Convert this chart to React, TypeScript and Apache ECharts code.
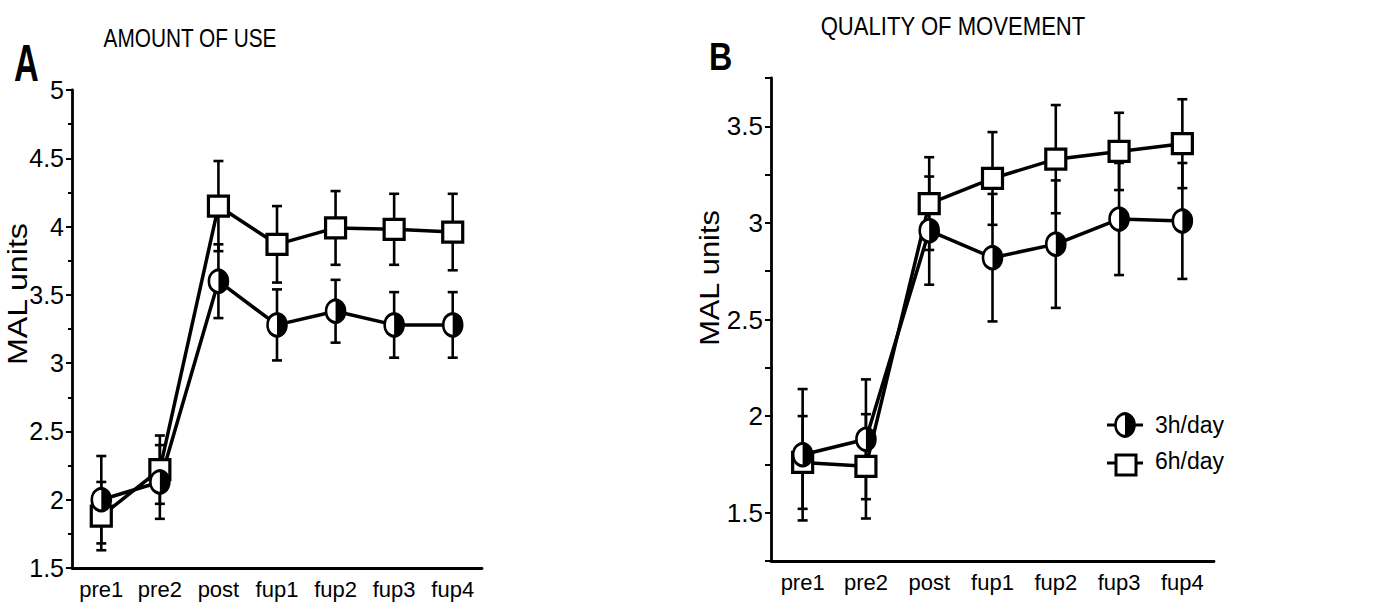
import React, { useEffect, useRef } from 'react';
import * as echarts from 'echarts';

const categories = ['pre1', 'pre2', 'post', 'fup1', 'fup2', 'fup3', 'fup4'];

// Panel A: AMOUNT OF USE
const useH3 = [2.0, 2.13, 3.6, 3.28, 3.38, 3.28, 3.28];
const useH3Err = [0.32, 0.27, 0.27, 0.26, 0.23, 0.24, 0.24];
const useH6 = [1.88, 2.22, 4.15, 3.87, 3.99, 3.98, 3.96];
const useH6Err = [0.25, 0.25, 0.33, 0.28, 0.27, 0.26, 0.28];

// Panel B: QUALITY OF MOVEMENT
const qomH3 = [1.8, 1.88, 2.96, 2.82, 2.89, 3.02, 3.01];
const qomH3Err = [0.34, 0.31, 0.28, 0.33, 0.33, 0.29, 0.3];
const qomH6 = [1.76, 1.74, 3.1, 3.23, 3.33, 3.37, 3.41];
const qomH6Err = [0.24, 0.27, 0.24, 0.24, 0.28, 0.2, 0.23];

const legendNames = ['3h/day', '6h/day'];
const titles = ['AMOUNT OF USE', 'QUALITY OF MOVEMENT'];
const yName = 'MAL units';

const REG = '"Liberation Sans", Arial, Helvetica, sans-serif';

const errData = (vals: number[], errs: number[]) => vals.map((v, i) => [i, v, errs[i]]);
const ptData = (vals: number[]) => vals.map((v, i) => [i, v]);

const errorBarItem = (_p: any, api: any) => {
  const i = api.value(0), v = api.value(1), e = api.value(2);
  const t = api.coord([i, v + e]);
  const b = api.coord([i, v - e]);
  const hw = 5;
  const st = { stroke: '#000', lineWidth: 2.6 };
  return {
    type: 'group',
    children: [
      { type: 'line', shape: { x1: t[0], y1: t[1], x2: b[0], y2: b[1] }, style: st },
      { type: 'line', shape: { x1: t[0] - hw, y1: t[1], x2: t[0] + hw, y2: t[1] }, style: st },
      { type: 'line', shape: { x1: b[0] - hw, y1: b[1], x2: b[0] + hw, y2: b[1] }, style: st },
    ],
  };
};

const halfCircle = (x: number, y: number) => ({
  type: 'group',
  x,
  y,
  scaleY: 1.18,
  children: [
    { type: 'circle', shape: { cx: 0, cy: 0, r: 9.5 }, style: { fill: '#fff', stroke: '#000', lineWidth: 2.6 } },
    {
      type: 'sector',
      shape: { cx: 0, cy: 0, r: 9.5, r0: 0, startAngle: -Math.PI / 2, endAngle: Math.PI / 2, clockwise: true },
      style: { fill: '#000' },
    },
  ],
});

const halfCircleItem = (_p: any, api: any) => {
  const c = api.coord([api.value(0), api.value(1)]);
  return halfCircle(c[0], c[1]);
};

function xAxisCfg(gridIndex: number, fontSize: number) {
  return {
    type: 'category',
    gridIndex,
    data: categories,
    boundaryGap: true,
    axisLine: { lineStyle: { color: '#000', width: 2.8 } },
    axisTick: { alignWithLabel: true, length: 6, lineStyle: { color: '#000', width: 2 } },
    axisLabel: { color: '#000', fontSize, fontFamily: REG, margin: 10, interval: 0 },
    splitLine: { show: false },
  };
}

function yAxisCfg(gridIndex: number, min: number, max: number, interval: number, fontSize: number) {
  return {
    type: 'value',
    gridIndex,
    min,
    max,
    interval,
    axisLine: { show: true, lineStyle: { color: '#000', width: 2.8 } },
    axisTick: { show: true, length: 6, lineStyle: { color: '#000', width: 2 } },
    minorTick: gridIndex === 0 ? { show: true, splitNumber: 2, length: 4, lineStyle: { color: '#000', width: 2 } } : { show: false },
    axisLabel: {
      color: '#000',
      fontSize,
      fontFamily: REG,
      margin: 8,
      formatter: (v: number) => (Math.abs(v * 2 - Math.round(v * 2)) < 1e-6 ? String(v) : ''),
    },
    splitLine: { show: false },
  };
}

function panelSeries(idx: number, h3: number[], h3e: number[], h6: number[], h6e: number[]) {
  const axes = { xAxisIndex: idx, yAxisIndex: idx };
  return [
    { type: 'line', name: legendNames[0], ...axes, data: h3, symbol: 'none', z: 2, lineStyle: { color: '#000', width: 3.5 } },
    { type: 'line', name: legendNames[1], ...axes, data: h6, symbol: 'none', z: 2, lineStyle: { color: '#000', width: 3.5 } },
    { type: 'custom', ...axes, data: errData(h3, h3e), renderItem: errorBarItem, z: 3, encode: { x: 0, y: 1 } },
    { type: 'custom', ...axes, data: errData(h6, h6e), renderItem: errorBarItem, z: 3, encode: { x: 0, y: 1 } },
    {
      type: 'scatter',
      ...axes,
      data: ptData(h6),
      symbol: 'rect',
      symbolSize: 20,
      z: 4,
      itemStyle: { color: '#fff', borderColor: '#000', borderWidth: 3.2, opacity: 1 },
    },
    { type: 'custom', ...axes, data: ptData(h3), renderItem: halfCircleItem, z: 5, encode: { x: 0, y: 1 } },
  ];
}

export default function App() {
  const ref = useRef<HTMLDivElement>(null);
  useEffect(() => {
    document.body.style.margin = '0';
    const chart = echarts.init(ref.current!, null, { renderer: 'svg' });
    chart.setOption({
      animation: false,
      backgroundColor: '#fff',
      grid: [
        { left: 72, top: 90, width: 410, height: 478 },
        { left: 771, top: 78, width: 443, height: 483 },
      ],
      xAxis: [xAxisCfg(0, 22), xAxisCfg(1, 22)],
      yAxis: [yAxisCfg(0, 1.5, 5, 0.5, 25), yAxisCfg(1, 1.25, 3.75, 0.25, 26)],
      series: [
        ...panelSeries(0, useH3, useH3Err, useH6, useH6Err),
        ...panelSeries(1, qomH3, qomH3Err, qomH6, qomH6Err),
      ],
      graphic: [
        { type: 'text', x: 14, y: 63, scaleX: 0.66, style: { text: 'A', font: `bold 52px ${REG}`, fill: '#000', textVerticalAlign: 'middle' } },
        { type: 'text', x: 709, y: 57, scaleX: 0.85, style: { text: 'B', font: `bold 38px ${REG}`, fill: '#000', textVerticalAlign: 'middle' } },
        { type: 'text', x: 190, y: 38, scaleX: 0.8, style: { text: titles[0], font: `26px ${REG}`, fill: '#000', textAlign: 'center', textVerticalAlign: 'middle' } },
        { type: 'text', x: 953, y: 26, scaleX: 0.85, style: { text: titles[1], font: `26px ${REG}`, fill: '#000', textAlign: 'center', textVerticalAlign: 'middle' } },
        { type: 'text', x: 17, y: 294, rotation: Math.PI / 2, scaleX: 1.15, style: { text: yName, font: `28px ${REG}`, fill: '#000', textAlign: 'center', textVerticalAlign: 'middle' } },
        { type: 'text', x: 709, y: 278, rotation: Math.PI / 2, scaleX: 1.1, style: { text: yName, font: `28px ${REG}`, fill: '#000', textAlign: 'center', textVerticalAlign: 'middle' } },
        // legend
        { type: 'line', shape: { x1: 1107, y1: 425, x2: 1143, y2: 425 }, style: { stroke: '#000', lineWidth: 3 } },
        halfCircle(1125, 425),
        { type: 'text', x: 1155, y: 425, style: { text: legendNames[0], font: `23px ${REG}`, fill: '#000', textVerticalAlign: 'middle' } },
        { type: 'line', shape: { x1: 1107, y1: 463, x2: 1143, y2: 463 }, style: { stroke: '#000', lineWidth: 3 } },
        { type: 'rect', shape: { x: 1116, y: 455, width: 20, height: 20 }, style: { fill: '#fff', stroke: '#000', lineWidth: 3 } },
        { type: 'text', x: 1155, y: 461, style: { text: legendNames[1], font: `23px ${REG}`, fill: '#000', textVerticalAlign: 'middle' } },
      ],
    });
    return () => chart.dispose();
  }, []);
  return <div ref={ref} style={{ position: 'absolute', left: 0, top: 0, width: 1382, height: 610 }} />;
}
